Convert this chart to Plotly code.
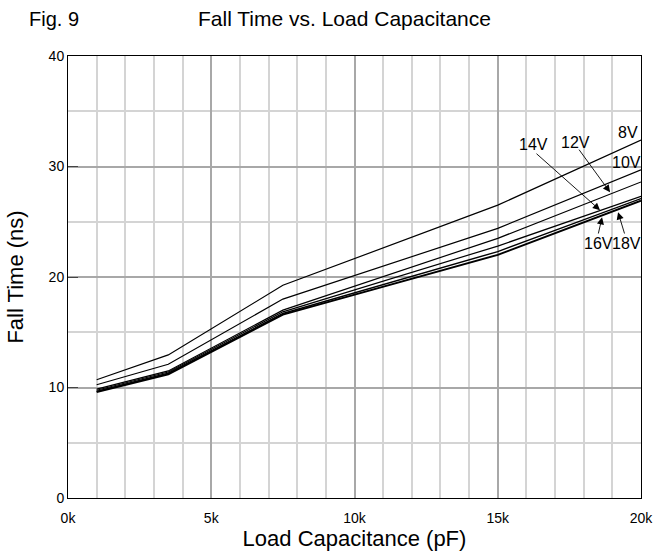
import plotly.graph_objects as go

cap_pf = [1000, 3500, 7500, 15000, 20000]
series_names = ["8V", "10V", "12V", "14V", "16V", "18V"]
fall_8v = [10.7, 12.95, 19.25, 26.5, 32.4]
fall_10v = [10.25, 12.1, 18.0, 24.4, 29.7]
fall_12v = [9.85, 11.5, 17.0, 23.5, 28.6]
fall_14v = [9.75, 11.4, 16.85, 22.8, 27.3]
fall_16v = [9.65, 11.3, 16.7, 22.3, 27.1]
fall_18v = [9.6, 11.2, 16.6, 22.0, 26.9]
series_vals = [fall_8v, fall_10v, fall_12v, fall_14v, fall_16v, fall_18v]
line_widths = [1.2, 1.2, 1.2, 1.2, 1.4, 2.0]

x_tickvals = [0, 5000, 10000, 15000, 20000]
x_ticktext = ["0k", "5k", "10k", "15k", "20k"]
y_tickvals = [0, 10, 20, 30, 40]

FONT = "Liberation Sans, Arial, Helvetica, sans-serif"

fig = go.Figure()
for name, vals, w in zip(series_names, series_vals, line_widths):
    fig.add_trace(go.Scatter(x=cap_pf, y=vals, mode="lines", name=name,
                             line=dict(color="black", width=w), showlegend=False,
                             hoverinfo="skip"))

# series labels: (label, x in pF, y in ns)
labels = [("8V", 19550, 33.1), ("10V", 19500, 30.4), ("12V", 17730, 32.2),
          ("14V", 16260, 32.0), ("16V", 18500, 23.06), ("18V", 19480, 23.06)]
for t, lx, ly in labels:
    fig.add_annotation(x=lx, y=ly, text=t, showarrow=False,
                       font=dict(family=FONT, size=16, color="black"))

# leader arrows: (tip x pF, tip y ns, tail x pF, tail y ns)
arrows = [(18920, 27.67, 17800, 31.66), (18570, 26.05, 16300, 31.28),
          (18640, 25.41, 18500, 23.8), (19200, 25.86, 19440, 23.8)]
for tx, ty, sx, sy in arrows:
    fig.add_annotation(x=tx, y=ty, ax=sx, ay=sy, axref="x", ayref="y",
                       text="", showarrow=True, arrowhead=2, arrowsize=1.6,
                       arrowwidth=0.9, arrowcolor="black", standoff=0, startstandoff=0)

fig.add_annotation(xref="x domain", yref="y domain", x=-0.072, y=1.084, text="Fig. 9",
                   showarrow=False, xanchor="left", yanchor="middle",
                   font=dict(family=FONT, size=20, color="black"))
fig.add_annotation(xref="x domain", yref="y domain", x=0.483, y=1.084,
                   text="Fall Time vs. Load Capacitance",
                   showarrow=False, xanchor="center", yanchor="middle",
                   font=dict(family=FONT, size=21, color="black"))

fig.update_layout(
    width=657, height=559,
    margin=dict(l=68, r=16, t=56, b=61),
    plot_bgcolor="white", paper_bgcolor="white",
    font=dict(family=FONT, size=14, color="black"),
    hovermode=False,
)
fig.update_xaxes(range=[0, 20000], tickvals=x_tickvals, ticktext=x_ticktext,
                 showgrid=True, gridcolor="#a8a8a8", gridwidth=1.5,
                 minor=dict(dtick=1000, showgrid=True, gridcolor="#d4d4d4", gridwidth=1.5),
                 showline=True, linecolor="black", linewidth=1, mirror=True,
                 ticks="outside", ticklen=7, tickcolor="rgba(0,0,0,0)",
                 zeroline=False, automargin=False,
                 title=dict(text="Load Capacitance (pF)", font=dict(size=22), standoff=4))
fig.update_yaxes(range=[0, 40], tickvals=y_tickvals,
                 showgrid=True, gridcolor="#a8a8a8", gridwidth=1.5,
                 minor=dict(dtick=5, showgrid=True, gridcolor="#d4d4d4", gridwidth=1.5),
                 showline=True, linecolor="black", linewidth=1, mirror=True,
                 ticks="inside", ticklen=10, tickcolor="#444", zeroline=False,
                 automargin=False,
                 title=dict(text="Fall Time (ns)", font=dict(size=22), standoff=18))

fig.write_html("out.html", config={"displayModeBar": False},
               post_script="document.body.style.margin='0';")
